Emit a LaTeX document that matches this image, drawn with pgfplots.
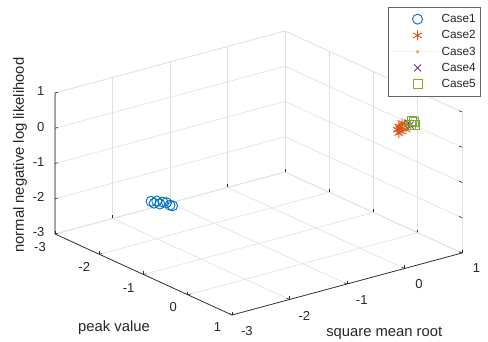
\documentclass[border=0pt]{standalone}
\usepackage{pgfplots}
\pgfplotsset{compat=1.18}
\usepackage{fontspec}
\setmainfont{Liberation Sans}
\definecolor{mblue}{RGB}{0,114,189}
\definecolor{morange}{RGB}{217,83,25}
\definecolor{myellow}{RGB}{237,177,32}
\definecolor{mpurple}{RGB}{126,47,142}
\definecolor{mgreen}{RGB}{119,172,48}
\definecolor{axgray}{RGB}{38,38,38}
\definecolor{gridgray}{RGB}{225,225,225}
\begin{document}
\begin{tikzpicture}
\useasboundingbox (0pt,0pt) rectangle (488pt,342pt);
\begin{axis}[
  at={(360.25pt,199.5pt)}, anchor=origin,
  x={(57.5pt,15.5pt)}, y={(-44.25pt,20.25pt)}, y dir=reverse, z={(0pt,35.25pt)},
  xmin=-3,xmax=1,ymin=-3,ymax=1,zmin=-3,zmax=1,
  xtick={-3,-2,-1,0,1}, ytick={-3,-2,-1,0,1}, ztick={-3,-2,-1,0,1},
  tick pos=left,
  grid=major, major grid style={draw=gridgray, line width=0.6pt},
  axis line style={draw=gridgray, line width=0.6pt},
  tick align=inside, major tick length=3pt,
  tick style={draw=axgray, line width=0.6pt},
  ticklabel style={font=\fontsize{13}{13}\selectfont, text=axgray},
  xticklabel style={xshift=9pt, yshift=-7pt},
  yticklabel style={xshift=-8pt, yshift=-4pt},
  zticklabel style={xshift=-7pt, yshift=1pt},
  /pgf/number format/assume math mode=true,
  clip=false,
  every axis x label/.style={at={(axis description cs:0.809,-0.063)}, anchor=center, font=\fontsize{14.8}{15}\selectfont, text=axgray},
  every axis y label/.style={at={(axis description cs:0.145,-0.046)}, anchor=center, font=\fontsize{14.8}{15}\selectfont, text=axgray},
  every axis z label/.style={at={(axis description cs:-0.086,0.563)}, anchor=center, rotate=90, font=\fontsize{14.8}{15}\selectfont, text=axgray},
  xlabel={square mean root},
  ylabel={peak value},
  zlabel={normal negative log likelihood},
  legend image code/.code={\path[draw=none] (0pt,0pt) -- (48pt,0pt); \draw[#1] plot coordinates {(26pt,0pt)};},
  legend style={at={(axis description cs:1.0466,1.0845)}, anchor=north east,
    draw=black!60, line width=0.6pt, fill=white, inner xsep=3pt, inner ysep=5pt, row sep=2.5pt,
    font=\fontsize{11.8}{12}\selectfont, text=axgray, cells={anchor=west}},
]
\addplot3[only marks, mark=o, mark size=5pt, draw=mblue, line width=0.9pt] coordinates {
(-2.06,-2.05,-1.94) (-2.03,-2.02,-1.99) (-2.00,-2.00,-1.93) (-1.97,-1.97,-2.01)
(-1.94,-1.94,-1.95) (-1.90,-1.91,-1.97) (-1.87,-1.87,-2.03) (-1.84,-1.85,-2.05)
};
\addlegendentry{Case1}
\addplot3[only marks, mark=asterisk, mark size=5pt, draw=morange, line width=0.9pt] coordinates {
(0.36,0.37,0.42) (0.38,0.38,0.51) (0.40,0.40,0.37) (0.42,0.42,0.46)
(0.44,0.44,0.58) (0.38,0.38,0.32) (0.45,0.45,0.43) (0.41,0.41,0.61)
(0.39,0.38,0.45) (0.43,0.44,0.52)
};
\addlegendentry{Case2}
\addplot3[only marks, mark=*, mark size=1.4pt, draw=myellow, fill=myellow] coordinates {
(0.43,0.43,0.52) (0.45,0.45,0.55) (0.44,0.44,0.50)
};
\addlegendentry{Case3}
\addplot3[only marks, mark=x, mark size=5pt, draw=mpurple, line width=0.9pt] coordinates {
(0.47,0.47,0.61) (0.49,0.49,0.56)
};
\addlegendentry{Case4}
\addplot3[only marks, mark=square, mark size=4.5pt, draw=mgreen, line width=0.9pt] coordinates {
(0.50,0.50,0.56) (0.53,0.53,0.65) (0.51,0.51,0.67) (0.54,0.54,0.56)
};
\addlegendentry{Case5}
\draw[axgray, line width=0.7pt] (axis cs:-3,-3,1) -- (axis cs:-3,-3,-3) -- (axis cs:-3,1,-3) -- (axis cs:1,1,-3);
\end{axis}
\end{tikzpicture}
\end{document}
